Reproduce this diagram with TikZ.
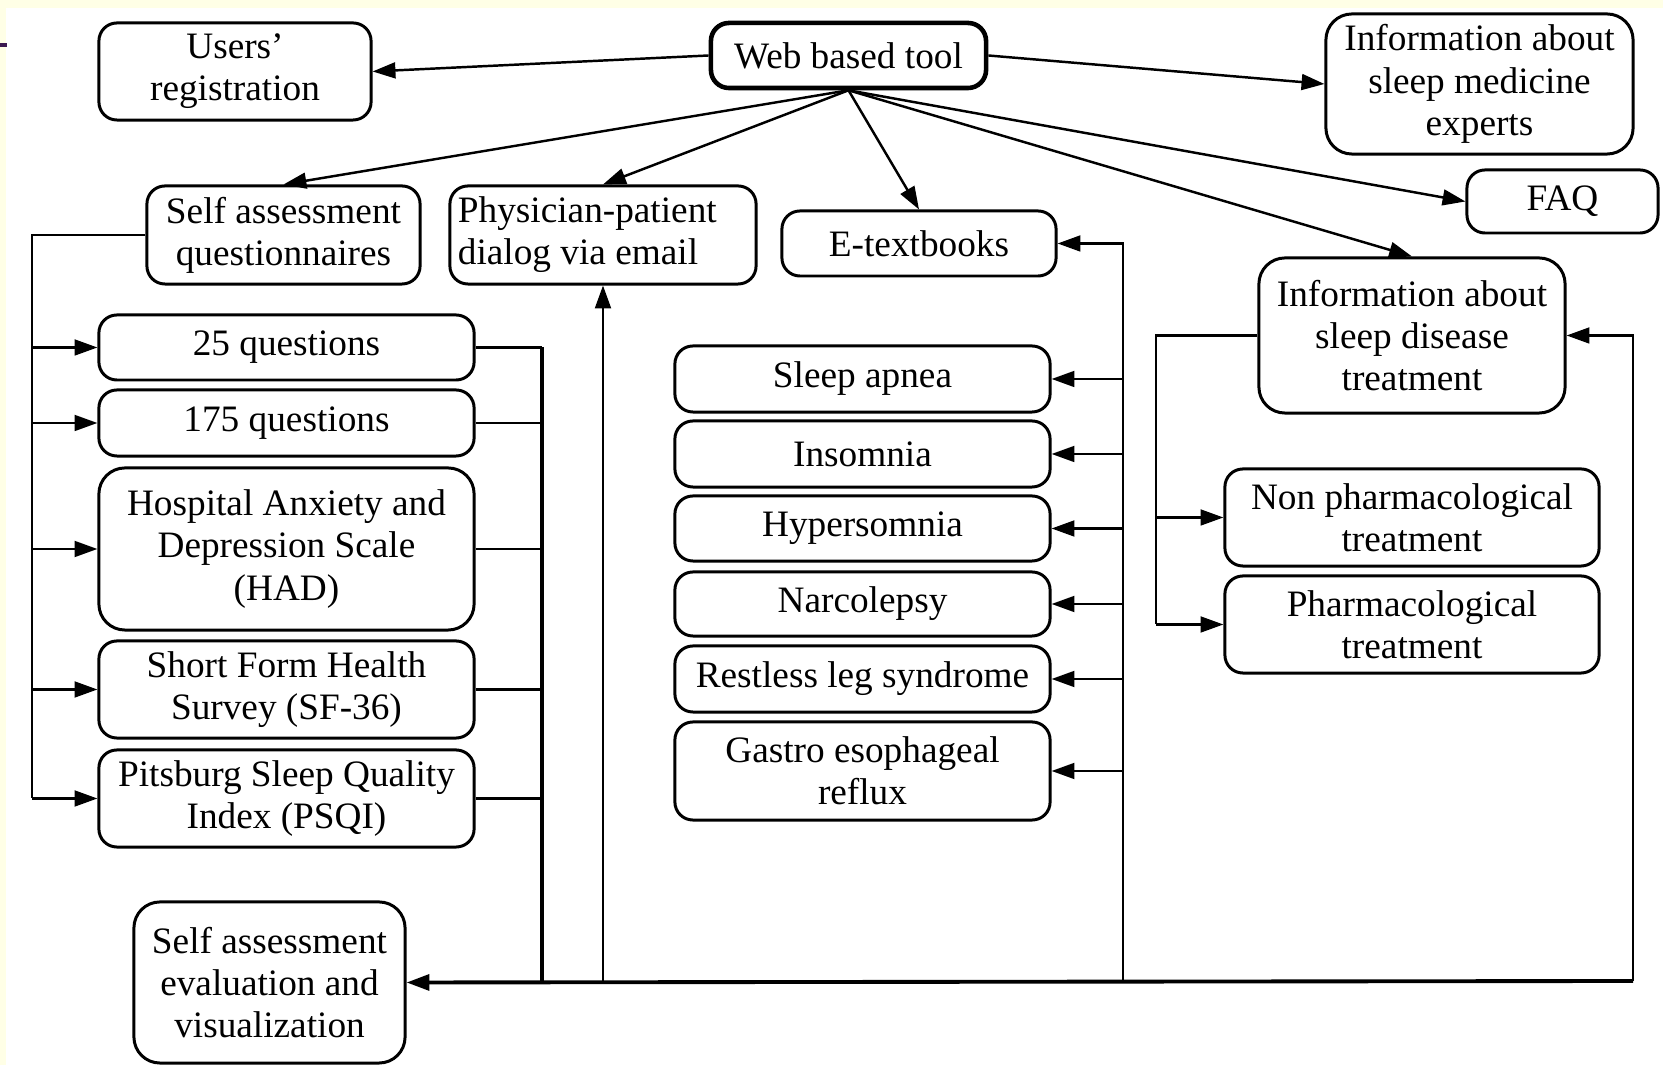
\documentclass[tikz,border=0pt]{standalone}
\usepackage{fontspec}
\setmainfont{Liberation Serif}
\usepackage{xcolor}
\usetikzlibrary{positioning,calc,arrows.meta}
\definecolor{slideyellow}{HTML}{FFFFE6}
\definecolor{slidepurple}{HTML}{3C1A50}
\tikzset{
  box/.style={draw, line width=0.85pt, rounded corners=0.18cm, align=center,
    inner sep=1pt, font=\fontsize{10.6}{12}\selectfont},
  tallbox/.style={box, rounded corners=0.26cm},
  arr/.style={line width=0.7pt, -{Triangle[length=6.5pt,width=4.5pt]}},
  link/.style={line width=0.7pt}
}

\begin{document}
\begin{tikzpicture}[x=0.01cm,y=-0.01cm]
    % page and slide border
    \useasboundingbox (0,0) rectangle (1663,1065);
    \fill[white] (0,0) rectangle (1663,1065);
    \fill[slideyellow] (0,0) rectangle (1663,8);
    \fill[slideyellow] (0,0) rectangle (6,1065);
    \draw[slidepurple, line width=1.2pt] (0,45) -- (7,45);

    % top row
    \node[box, line width=1.3pt, minimum width=2.75cm, minimum height=0.65cm] (web) at (848.5,55.5) {Web based tool};
    \node[box, minimum width=2.72cm, minimum height=0.97cm] (users) at (235,71.5) {Users’\\registration};
    \node[tallbox, minimum width=3.07cm, minimum height=1.40cm] (experts) at (1479.5,84) {Information about\\sleep medicine\\experts};

    % second row
    \node[box, minimum width=2.73cm, minimum height=0.98cm] (saq) at (283.5,235) {Self assessment\\questionnaires};
    \node[box, align=flush left, minimum width=3.06cm, minimum height=0.98cm, text width=2.9cm] (phys) at (603,235) {Physician-patient\\dialog via email};
    \node[box, minimum width=2.74cm, minimum height=0.65cm] (etext) at (919,243.5) {E-textbooks};
    \node[box, minimum width=1.91cm, minimum height=0.63cm] (faq) at (1562.5,201.5) {FAQ};
    \node[tallbox, minimum width=3.06cm, minimum height=1.55cm] (treat) at (1412,335.5) {Information about\\sleep disease\\treatment};

    % questionnaires
    \node[box, minimum width=3.75cm, minimum height=0.65cm] (q25) at (286.5,347.5) {25 questions};
    \node[box, minimum width=3.75cm, minimum height=0.66cm] (q175) at (286.5,423) {175 questions};
    \node[tallbox, minimum width=3.75cm, minimum height=1.62cm] (had) at (286.5,549) {Hospital Anxiety and\\Depression Scale\\(HAD)};
    \node[box, minimum width=3.75cm, minimum height=0.97cm] (sf) at (286.5,689.5) {Short Form Health\\Survey (SF-36)};
    \node[box, minimum width=3.75cm, minimum height=0.97cm] (psqi) at (286.5,798.5) {Pitsburg Sleep Quality\\Index (PSQI)};
    \node[tallbox, minimum width=2.71cm, minimum height=1.61cm] (eval) at (269.5,982.5) {Self assessment\\evaluation and\\visualization};

    % e-textbook chapters
    \node[box, minimum width=3.75cm, minimum height=0.66cm] (apnea) at (862.5,379) {Sleep apnea};
    \node[box, minimum width=3.75cm, minimum height=0.66cm] (insom) at (862.5,454) {Insomnia};
    \node[box, minimum width=3.75cm, minimum height=0.65cm] (hyper) at (862.5,528.5) {Hypersomnia};
    \node[box, minimum width=3.75cm, minimum height=0.64cm] (narco) at (862.5,604) {Narcolepsy};
    \node[box, minimum width=3.75cm, minimum height=0.66cm] (rls) at (862.5,679) {Restless leg syndrome};
    \node[box, minimum width=3.75cm, minimum height=0.98cm] (gerd) at (862.5,771) {Gastro esophageal\\reflux};

    % treatments
    \node[box, minimum width=3.74cm, minimum height=0.97cm] (nonph) at (1412,517.5) {Non pharmacological\\treatment};
    \node[box, minimum width=3.74cm, minimum height=0.97cm] (pharm) at (1412,624.5) {Pharmacological\\treatment};

    % bus points
    \coordinate (lbus) at (32,235);
    \coordinate (rbus) at (542,981);
    \coordinate (ebus) at (1123,981);
    \coordinate (tbus) at (1156,335.5);
    \coordinate (corner) at (1633,981);

    % from the web tool
    \draw[arr] (web.west) -- (users.east);
    \draw[arr] (web.east) -- (experts.west);
    \foreach \n in {saq.north,phys.north,etext.north,faq.west,treat.north}
        \draw[arr] (web.south) -- (\n);

    % questionnaires
    \draw[link] (saq.west) -- (lbus) -- (lbus |- psqi.west);
    \foreach \n in {q25,q175,had,sf,psqi} {
        \draw[arr] (lbus |- \n.west) -- (\n.west);
        \draw[link] (\n.east) -- (\n.east -| rbus);
    }
    \draw[line width=1.1pt] (q25.east -| rbus) -- (rbus);

    % bottom line
    \draw[arr, line width=1.1pt] (corner) -- (eval.east);
    \draw[arr] (corner) |- (treat.east);
    \draw[arr] (phys.south |- corner) -- (phys.south);
    \draw[arr] (ebus) |- (etext.east);
    \foreach \n in {apnea,insom,hyper,narco,rls,gerd}
        \draw[arr] (ebus |- \n.east) -- (\n.east);

    % treatments
    \draw[link] (treat.west) -- (tbus) -- (tbus |- pharm.west);
    \foreach \n in {nonph,pharm}
        \draw[arr] (tbus |- \n.west) -- (\n.west);
\end{tikzpicture}
\end{document}
